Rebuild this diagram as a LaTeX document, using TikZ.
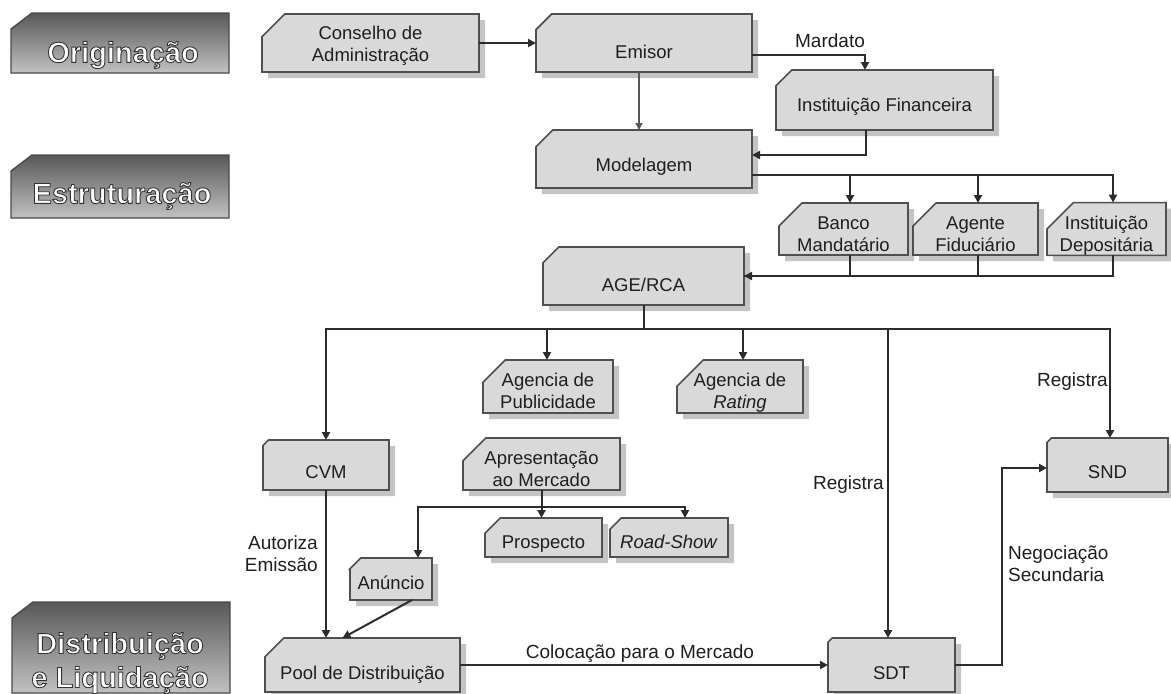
\documentclass[tikz,border=0pt]{standalone}
\usepackage{fontspec}
\setmainfont{Liberation Sans}
\usetikzlibrary{shapes.misc,shadows,arrows.meta}
\definecolor{boxfill}{HTML}{D9D9D9}
\definecolor{boxline}{HTML}{4F4F4F}
\definecolor{shadowgray}{HTML}{C4C4C4}
\definecolor{wirecol}{HTML}{2C2C2C}
\definecolor{ink}{HTML}{1E1E1E}
\definecolor{stagetop}{HTML}{585858}
\definecolor{stagebot}{HTML}{C2C2C2}
\definecolor{stageline}{HTML}{4A4A4A}
\newcommand\sink[1]{\rule{0pt}{#1pt}}
\newcommand\outlinedtext[1]{\special{pdf:literal direct 0.2 G 2 Tr 0.9 w}#1\special{pdf:literal direct 0 Tr}}
\tikzset{
  flowbox/.style={chamfered rectangle, chamfered rectangle corners=north west,
    chamfered rectangle xsep=17pt, chamfered rectangle ysep=12pt,
    inner xsep=-17pt, inner ysep=-12pt,
    draw=boxline, line width=1.6pt, fill=boxfill, outer sep=0pt,
    text=ink, align=center, font=\fontsize{18.5}{22}\selectfont,
    general shadow={shadow xshift=6pt, shadow yshift=-6pt, fill=shadowgray}},
  stagebox/.style={draw=stageline, line width=1.4pt, top color=stagetop, bottom color=stagebot},
  stagetext/.style={text=white, align=center, inner sep=0pt, font=\bfseries\fontsize{29}{34}\selectfont},
  wire/.style={draw=wirecol, line width=2pt},
  thinwire/.style={draw=wirecol!80, line width=1.3pt},
  arr/.style={wire, -{Triangle[length=8pt,width=8pt]}},
  lbl/.style={text=ink, font=\fontsize{19}{22}\selectfont, inner sep=0pt},
}
\begin{document}
\begin{tikzpicture}[x=1pt,y=-1pt]
\useasboundingbox (0,0) rectangle (1171,694);
% stage boxes
\shade[stagebox] (11,29) -- (32,13) -- (229,13) -- (229,73) -- (11,73) -- cycle;
\shade[stagebox] (11,171) -- (32,155) -- (229,155) -- (229,218) -- (11,218) -- cycle;
\shade[stagebox] (12,618) -- (33,602) -- (230,602) -- (230,693) -- (12,693) -- cycle;
\node[stagetext] (orig) at (123,55) {\outlinedtext{Originação}};
\node[stagetext] (estr) at (122,196) {\outlinedtext{Estruturação}};
\node[stagetext] (dist) at (120,663) {\outlinedtext{Distribuição}\\\outlinedtext{e Liquidação}};

% flow boxes
\node[flowbox, minimum width=217pt, minimum height=58pt] (cons) at (370.5,43) {\sink{19.5}Conselho de\\Administração};
\node[flowbox, minimum width=216pt, minimum height=58pt] (emis) at (644,43) {\sink{31.5}Emisor};
\node[flowbox, minimum width=217pt, minimum height=60pt] (inst) at (884.5,100) {\sink{27.5}Instituição Financeira};
\node[flowbox, minimum width=216pt, minimum height=58pt] (model) at (644,159) {\sink{29.5}Modelagem};
\node[flowbox, minimum width=129pt, minimum height=52pt] (banco) at (843.5,229) {\sink{24}Banco\\Mandatário};
\node[flowbox, minimum width=125pt, minimum height=52pt] (agente) at (975.5,229) {\sink{24}Agente\\Fiduciário};
\node[flowbox, minimum width=119pt, minimum height=52pt] (depos) at (1106.5,229) {\sink{27}Instituição\\Depositária};
\node[flowbox, minimum width=201pt, minimum height=58pt] (age) at (643.5,276) {\sink{31.5}AGE/RCA};
\node[flowbox, minimum width=130pt, minimum height=53pt] (agpub) at (548,386.5) {\sink{22.5}Agencia de\\Publicidade};
\node[flowbox, minimum width=126pt, minimum height=53pt] (agrat) at (740,386.5) {\sink{26.5}Agencia de\\\textit{Rating}};
\node[flowbox, minimum width=126pt, minimum height=50pt] (cvm) at (326,465) {\sink{27.5}CVM};
\node[flowbox, minimum width=157pt, minimum height=52pt] (apres) at (541.5,464) {\sink{23.5}Apresentação\\ao Mercado};
\node[flowbox, minimum width=121pt, minimum height=54pt] (snd) at (1107.5,465) {\sink{27.5}SND};
\node[flowbox, minimum width=117pt, minimum height=39pt] (prosp) at (543.5,537.5) {\sink{26.5}Prospecto};
\node[flowbox, minimum width=118pt, minimum height=39pt] (road) at (669,537.5) {\sink{22.5}\textit{Road-Show}};
\node[flowbox, minimum width=82pt, minimum height=42pt] (anunc) at (391,579) {\sink{21.5}Anúncio};
\node[flowbox, minimum width=195pt, minimum height=54pt] (pool) at (362.5,665) {\sink{33.5}Pool de Distribuição};
\node[flowbox, minimum width=127pt, minimum height=54pt] (sdt) at (891.5,665) {\sink{29.5}SDT};

% connectors: origination
\draw[arr] (cons.east) -- (emis.west);
\draw[arr] ([yshift=-12pt]emis.east) -| ([xshift=-19.5pt]inst.north);
\node[lbl] (mand) at (830,41) {Mardato};
\draw[thinwire, -{Triangle[length=7pt,width=7pt]}] ([xshift=-5pt]emis.south) -- ([xshift=-5pt]model.north);
\draw[arr] ([xshift=-18.5pt]inst.south) |- ([yshift=4pt]model.east);

% structuring
\coordinate (mbus) at ([yshift=-16pt]model.east);
\draw[arr] (mbus) -| ([xshift=6.5pt]banco.north);
\draw[arr] (mbus) -| ([xshift=2.5pt]agente.north);
\draw[arr] (mbus) -| ([xshift=6.5pt]depos.north);
\draw[wire] ([xshift=6.5pt]banco.south) |- (age.east);
\draw[wire] ([xshift=2.5pt]agente.south) |- (age.east);
\draw[arr] ([xshift=6.5pt]depos.south) |- (age.east);

% distribution bus
\coordinate (dbus) at ([yshift=-24pt]age.south);
\draw[wire] (age.south) -- (dbus);
\draw[arr] (dbus) -| (cvm.north);
\draw[arr] (dbus) -| ([xshift=-1pt]agpub.north);
\draw[arr] (dbus) -| ([xshift=3pt]agrat.north);
\draw[arr] (dbus) -| ([xshift=-3.5pt]sdt.north);
\draw[arr] (dbus) -| ([xshift=2.5pt]snd.north);
\node[lbl, anchor=east] (reg1) at (1108,382) {Registra};
\node[lbl, anchor=east] (reg2) at (884,485) {Registra};

% CVM and presentation
\draw[arr] (cvm.south) -- (cvm.south |- pool.north);
\node[lbl, anchor=east, align=right] (aut) at (318,554) {Autoriza\\Emissão};
\coordinate (abus) at ([yshift=-17pt]apres.south);
\draw[arr] (apres.south) -- (apres.south |- prosp.north);
\draw[arr] (abus) -| ([xshift=27pt]anunc.north);
\draw[arr] (abus) -| ([xshift=16pt]road.north);
\draw[arr] ([xshift=21pt]anunc.south) -- ([xshift=-20pt]pool.north);

% settlement
\draw[arr] (pool.east) -- (sdt.west);
\node[lbl] (col) at (640,654) {Colocação para o Mercado};
\draw[arr] (sdt.east) -- ++(47,0) |- ([yshift=-3pt]snd.west);
\node[lbl, anchor=west, align=left] (neg) at (1008,564) {Negociação\\Secundaria};
\end{tikzpicture}
\end{document}
